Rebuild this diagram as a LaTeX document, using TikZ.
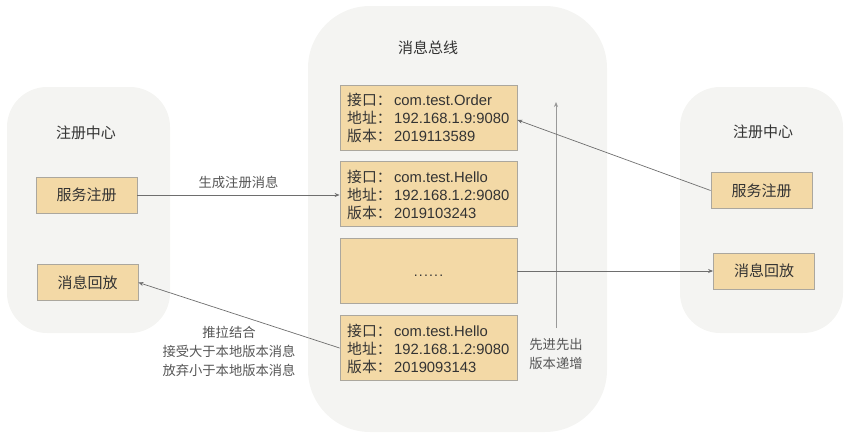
\documentclass[tikz,border=0pt]{standalone}
\usepackage{fontspec}
\setmainfont{Liberation Sans}
\newfontfamily\cjk{Noto Sans CJK SC}
\usetikzlibrary{arrows.meta}
\definecolor{panel}{HTML}{F4F4F2}
\definecolor{boxfill}{HTML}{F3D9A6}
\definecolor{boxline}{HTML}{ABA79E}
\definecolor{txt}{HTML}{333333}
\definecolor{lbl}{HTML}{555555}
\definecolor{arr}{HTML}{6E6E6E}
\tikzset{
  panelbox/.style={fill=panel, draw=none},
  title/.style={font=\fontsize{15}{18}\selectfont\cjk, text=txt},
  svcbox/.style={draw=boxline, fill=boxfill, line width=0.8pt, minimum width=101pt, minimum height=36pt, inner sep=0pt, font=\fontsize{15}{18}\selectfont\cjk, text=txt},
  msgbox/.style={draw=boxline, fill=boxfill, line width=0.8pt, minimum width=177pt, minimum height=65pt, inner sep=0pt},
  msgtext/.style={anchor=west, align=left, inner sep=0pt, font=\fontsize{14.8}{18}\selectfont, text=txt},
  conn/.style={draw=arr, line width=0.7pt, -{Stealth[length=5pt,width=4pt]}},
  clabel/.style={font=\fontsize{13.3}{19}\selectfont\cjk, text=lbl, align=center, inner sep=0pt}
}
\begin{document}
\begin{tikzpicture}[x=1pt,y=-1pt]
\useasboundingbox (0,0) rectangle (852,434);
% panels
\path[panelbox, rounded corners=40pt] (7,87) rectangle (170,333);
\path[panelbox, rounded corners=62pt] (308,6) rectangle (607,432);
\path[panelbox, rounded corners=40pt] (680,87) rectangle (843,333);
% titles
\node[title] (ltitle) at (86,133) {注册中心};
\node[title] (mtitle) at (428,48) {消息总线};
\node[title] (rtitle) at (763,132) {注册中心};
% left registry
\node[svcbox] (lsvc) at (86.5,195) {服务注册};
\node[svcbox] (lreplay) at (87.5,282.5) {消息回放};
% right registry
\node[svcbox] (rsvc) at (761.5,190.5) {服务注册};
\node[svcbox] (rreplay) at (764,271) {消息回放};
% bus boxes
\node[msgbox] (b1) at (428.5,117.5) {};
\node[msgbox] (b2) at (428.5,194) {};
\node[msgbox] (b3) at (428.5,271) {};
\node[msgbox] (b4) at (428.5,348) {};
\node[msgtext] (t1) at (347,118) {{\cjk 接口：}\,com.test.Order\\{\cjk 地址：}\,192.168.1.9:9080\\{\cjk 版本：}\,2019113589};
\node[msgtext] (t2) at (347,194.5) {{\cjk 接口：}\,com.test.Hello\\{\cjk 地址：}\,192.168.1.2:9080\\{\cjk 版本：}\,2019103243};
\node[font=\fontsize{14}{18}\selectfont, text=txt, inner sep=0pt] (t3) at (428.5,276) {.\kern1.2pt.\kern1.2pt.\kern1.2pt.\kern1.2pt.\kern1.2pt.};
\node[msgtext] (t4) at (347,348.5) {{\cjk 接口：}\,com.test.Hello\\{\cjk 地址：}\,192.168.1.2:9080\\{\cjk 版本：}\,2019093143};
% FIFO arrow
\coordinate (fifoS) at (556,328);
\coordinate (fifoN) at (556,102);
\draw[conn, draw=arr!70] (fifoS) -- (fifoN);
\node[clabel, anchor=north] (fifolbl) at (556,338) {先进先出\\版本递增};
% connectors
\draw[conn] (lsvc.east) -- (lsvc.east -| b2.west) node[midway, above=6pt, clabel] (l1) {生成注册消息};
\draw[conn] (rsvc.west) -- ([yshift=-2.5pt]b1.east);
\draw[conn] (b3.east) -- (rreplay.west);
\draw[conn] (b4.west) -- (lreplay.east);
\node[clabel] (l2) at (229,351) {推拉结合\\接受大于本地版本消息\\放弃小于本地版本消息};
\end{tikzpicture}
\end{document}
